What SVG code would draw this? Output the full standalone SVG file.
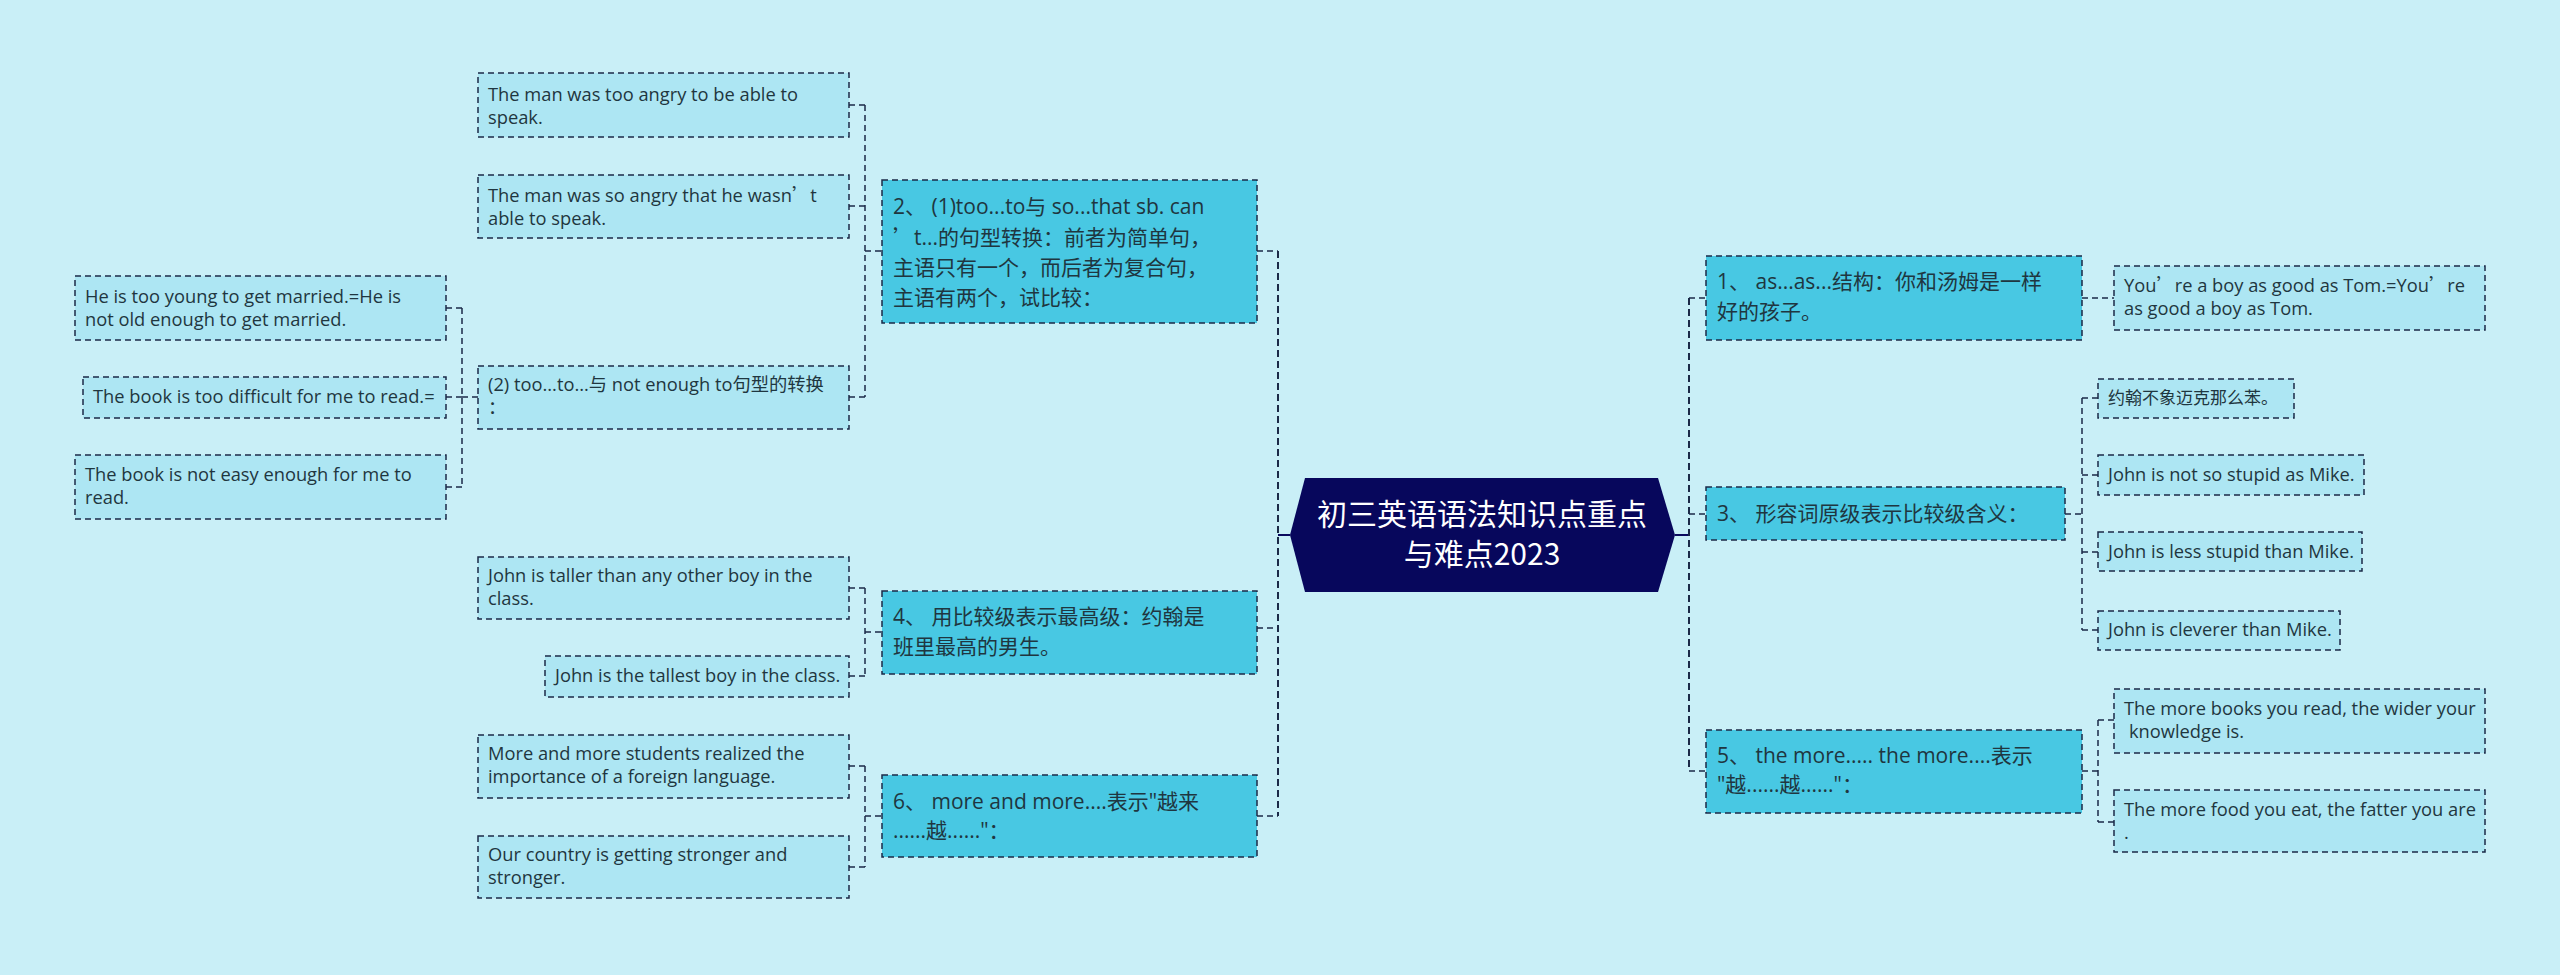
<svg xmlns="http://www.w3.org/2000/svg" width="2560" height="975" viewBox="0 0 2560 975">
<style>
.bg{fill:#c9eff7}
.main{fill:#48c8e3;stroke:#1b2a48;stroke-width:1.5;stroke-dasharray:6 4}
.leaf{fill:#ade6f3;stroke:#1b2a48;stroke-width:1.5;stroke-dasharray:6 4}
.mt{font-family:"Open Sans","Noto Sans CJK SC",sans-serif;font-size:21px;fill:#1f3640}
.lt{font-family:"Open Sans","Noto Sans CJK SC",sans-serif;font-size:18.3px;fill:#1f3640}
.ct{font-family:"Noto Sans CJK SC","Open Sans",sans-serif;font-size:30px;fill:#ffffff}
.cjk{font-family:"Noto Sans CJK SC",sans-serif}
.con{fill:none;stroke:#1b2a48;stroke-width:1.5;stroke-dasharray:6 4}
.bus{fill:none;stroke:#1b2a48;stroke-width:2;stroke-dasharray:7 4}
.solid{fill:none;stroke:#0a0a5e;stroke-width:2}
</style>
<rect class="bg" x="0" y="0" width="2560" height="975"/>
<g id="connectors">
<path class="solid" d="M1278 535H1290M1675 535H1689"/>
<path class="bus" d="M1278 251V816M1689 298V771"/>
<path class="con" d="M1257 251H1278M1257 628H1278M1257 816H1278"/>
<path class="con" d="M865 105V397M849 105H865M849 206H865M849 397H865M865 251H882"/>
<path class="con" d="M462 308V487M446 308H462M446 397H462M446 487H462M462 397H478"/>
<path class="con" d="M865 588V676M849 588H865M849 676H865M865 632H882"/>
<path class="con" d="M865 766V867M849 766H865M849 867H865M865 816H882"/>
<path class="con" d="M1689 298H1706M1689 514H1706M1689 771H1706"/>
<path class="con" d="M2082 298H2114"/>
<path class="con" d="M2082 398V630M2065 514H2082M2082 398H2098M2082 475H2098M2082 552H2098M2082 630H2098"/>
<path class="con" d="M2098 720V822M2082 771H2098M2098 720H2114M2098 822H2114"/>
</g>
<g id="center">
<polygon points="1290,535 1305,478 1658,478 1675,535 1658,592 1305,592" fill="#07075c"/>
<text class="ct" x="1482" y="525" text-anchor="middle">初三英语语法知识点重点</text>
<text class="ct" x="1482" y="565" text-anchor="middle">与难点2023</text>
</g>
<g id="n2">
<rect class="main" x="882" y="180" width="375" height="143"/>
<text class="mt" x="893" y="214">2、 (1)too...to与 so...that sb. can</text>
<text class="mt" x="893" y="245"><tspan class="cjk">’</tspan>t...的句型转换：前者为简单句，</text>
<text class="mt" x="893" y="275">主语只有一个，而后者为复合句，</text>
<text class="mt" x="893" y="305">主语有两个，试比较：</text>
</g>
<g id="n2a">
<rect class="leaf" x="478" y="73" width="371" height="64"/>
<text class="lt" x="488" y="101">The man was too angry to be able to</text>
<text class="lt" x="488" y="124">speak.</text>
</g>
<g id="n2b">
<rect class="leaf" x="478" y="175" width="371" height="63"/>
<text class="lt" x="488" y="202">The man was so angry that he wasn<tspan class="cjk">’</tspan>t</text>
<text class="lt" x="488" y="225">able to speak.</text>
</g>
<g id="n2c">
<rect class="leaf" x="478" y="366" width="371" height="63"/>
<text class="lt" x="488" y="391">(2) too...to...与 not enough to句型的转换</text>
<text class="lt" x="488" y="414">：</text>
</g>
<g id="n2c1">
<rect class="leaf" x="75" y="276" width="371" height="64"/>
<text class="lt" x="85" y="303">He is too young to get married.=He is</text>
<text class="lt" x="85" y="326">not old enough to get married.</text>
</g>
<g id="n2c2">
<rect class="leaf" x="83" y="377" width="363" height="41"/>
<text class="lt" x="93" y="403">The book is too difficult for me to read.=</text>
</g>
<g id="n2c3">
<rect class="leaf" x="75" y="455" width="371" height="64"/>
<text class="lt" x="85" y="481">The book is not easy enough for me to</text>
<text class="lt" x="85" y="504">read.</text>
</g>
<g id="n4">
<rect class="main" x="882" y="591" width="375" height="83"/>
<text class="mt" x="893" y="624">4、 用比较级表示最高级：约翰是</text>
<text class="mt" x="893" y="654">班里最高的男生。</text>
</g>
<g id="n4a">
<rect class="leaf" x="478" y="557" width="371" height="62"/>
<text class="lt" x="488" y="582">John is taller than any other boy in the</text>
<text class="lt" x="488" y="605">class.</text>
</g>
<g id="n4b">
<rect class="leaf" x="545" y="656" width="304" height="41"/>
<text class="lt" x="555" y="682">John is the tallest boy in the class.</text>
</g>
<g id="n6">
<rect class="main" x="882" y="775" width="375" height="82"/>
<text class="mt" x="893" y="809">6、 more and more....表示"越来</text>
<text class="mt" x="893" y="838">......越......"：</text>
</g>
<g id="n6a">
<rect class="leaf" x="478" y="735" width="371" height="63"/>
<text class="lt" x="488" y="760">More and more students realized the</text>
<text class="lt" x="488" y="783">importance of a foreign language.</text>
</g>
<g id="n6b">
<rect class="leaf" x="478" y="836" width="371" height="62"/>
<text class="lt" x="488" y="861">Our country is getting stronger and</text>
<text class="lt" x="488" y="884">stronger.</text>
</g>
<g id="n1">
<rect class="main" x="1706" y="256" width="376" height="84"/>
<text class="mt" x="1717" y="289">1、 as...as...结构：你和汤姆是一样</text>
<text class="mt" x="1717" y="319">好的孩子。</text>
</g>
<g id="n1a">
<rect class="leaf" x="2114" y="266" width="371" height="64"/>
<text class="lt" x="2124" y="292">You<tspan class="cjk">’</tspan>re a boy as good as Tom.=You<tspan class="cjk">’</tspan>re</text>
<text class="lt" x="2124" y="315">as good a boy as Tom.</text>
</g>
<g id="n3">
<rect class="main" x="1706" y="487" width="359" height="53"/>
<text class="mt" x="1717" y="521">3、 形容词原级表示比较级含义：</text>
</g>
<g id="n3a">
<rect class="leaf" x="2098" y="379" width="196" height="39"/>
<text class="lt" x="2108" y="404" style="font-size:17px">约翰不象迈克那么苯。</text>
</g>
<g id="n3b">
<rect class="leaf" x="2098" y="455" width="266" height="40"/>
<text class="lt" x="2108" y="481">John is not so stupid as Mike.</text>
</g>
<g id="n3c">
<rect class="leaf" x="2098" y="532" width="264" height="39"/>
<text class="lt" x="2108" y="558">John is less stupid than Mike.</text>
</g>
<g id="n3d">
<rect class="leaf" x="2098" y="611" width="242" height="39"/>
<text class="lt" x="2108" y="636">John is cleverer than Mike.</text>
</g>
<g id="n5">
<rect class="main" x="1706" y="730" width="376" height="83"/>
<text class="mt" x="1717" y="763">5、 the more..... the more....表示</text>
<text class="mt" x="1717" y="792">"越......越......"：</text>
</g>
<g id="n5a">
<rect class="leaf" x="2114" y="689" width="371" height="64"/>
<text class="lt" x="2124" y="715">The more books you read, the wider your</text>
<text class="lt" x="2129" y="738">knowledge is.</text>
</g>
<g id="n5b">
<rect class="leaf" x="2114" y="790" width="371" height="62"/>
<text class="lt" x="2124" y="816">The more food you eat, the fatter you are</text>
<text class="lt" x="2124" y="839">.</text>
</g>
</svg>
